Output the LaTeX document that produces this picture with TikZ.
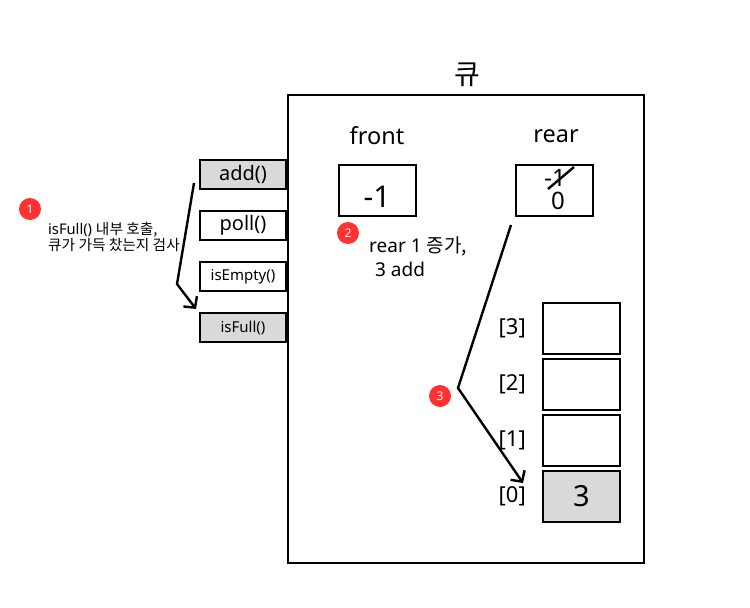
\documentclass[tikz,border=0pt]{standalone}
\usepackage{fontspec}
\usepackage{xcolor}
\setmainfont{Noto Sans}
\newfontfamily\krfont{Noto Sans CJK KR}
\newcommand{\kr}[1]{{\krfont #1}}
\usetikzlibrary{arrows.meta,calc,positioning}
\definecolor{cellgray}{HTML}{D9D9D9}
\definecolor{badgered}{HTML}{FF3131}
\begin{document}
\begin{tikzpicture}[x=1pt,y=-1pt,node distance=3pt,
box/.style={draw,line width=2pt,inner sep=0pt,minimum width=77pt,minimum height=51pt,font=\fontsize{29}{34}\selectfont},
method/.style={draw,line width=2pt,inner sep=0pt,minimum width=86pt,minimum height=29pt,font=\fontsize{20}{23}\selectfont},
small/.style={font=\fontsize{15}{17}\selectfont},
used/.style={fill=cellgray},
lab/.style={inner sep=0pt,font=\fontsize{22}{26}\selectfont},
note/.style={inner sep=0pt,align=left,anchor=west},
badge/.style={circle,fill=badgered,text=white,inner sep=0pt,minimum size=22pt,font=\fontsize{12}{14}\selectfont},
flow/.style={-{Straight Barb[length=8pt,width=17pt]},line width=2.4pt,line join=round}]
\useasboundingbox (0,0) rectangle (750,608);
\node[draw,line width=2pt,minimum width=356pt,minimum height=468pt,inner sep=0pt] (queue) at (466,329) {};
\node[lab,font=\krfont\fontsize{28}{32}\selectfont] (title) at (467,75) {큐};
\node[lab,font=\fontsize{23.5}{28}\selectfont] (frontlab) at (377,136) {front};
\node[lab,font=\fontsize{23.5}{28}\selectfont] (rearlab) at (556,136) {rear};
\node[box] (front) at (377.5,190.5) {};
\node[box] (rear) at (554.5,190.5) {};
\node[inner sep=0pt,font=\fontsize{30}{34}\selectfont] (frontval) at (377,197) {-1};
\node[inner sep=0pt,font=\fontsize{24}{28}\selectfont] (rearold) at (555,178) {-1};
\node[inner sep=0pt,font=\fontsize{24}{28}\selectfont] (rearnew) at (558,201) {0};
\draw[line width=2.4pt] ($(rearold.center)+(-7,11)$) -- ($(rearold.center)+(19,-11)$);
% methods
\node[method,used] (add) at (243,174.5) {add()};
\node[method,below=20pt of add] (poll) {poll()};
\node[method,below=20pt of poll,small] (isempty) {isEmpty()};
\node[method,below=20pt of isempty,used,small] (isfull) {isFull()};
% array
\node[box] (c3) at (581.5,328.5) {};
\node[box,below=of c3] (c2) {};
\node[box,below=of c2] (c1) {};
\node[box,below=of c1,used] (c0) {3};
\node[lab,left=16pt of c3] (i3) {[3]};
\node[lab,left=16pt of c2] (i2) {[2]};
\node[lab,left=16pt of c1] (i1) {[1]};
\node[lab,left=16pt of c0] (i0) {[0]};
% notes
\node[badge] (b1) at (30,209) {1};
\node[badge] (b2) at (348,233) {2};
\node[badge] (b3) at (440,396) {3};
\node[note,font=\fontsize{14.7}{16}\selectfont] (n1) at (48,237) {isFull() \kr{내부 호출,}\\\kr{큐가 가득 찼는지 검사}};
\node[note,font=\fontsize{19}{24}\selectfont] (n2) at (369,257) {rear 1 \kr{증가,}\\\hspace{6pt}3 add};
% arrows
\coordinate (a1) at (194,183);
\coordinate (a2) at (177,284);
\coordinate (a3) at (196,309);
\coordinate (r1) at (511,225);
\coordinate (r2) at (458,388);
\coordinate (r3) at (523,483);
\draw[flow] (a1)--(a2)--(a3);
\draw[flow] (r1)--(r2)--(r3);
\end{tikzpicture}
\end{document}
